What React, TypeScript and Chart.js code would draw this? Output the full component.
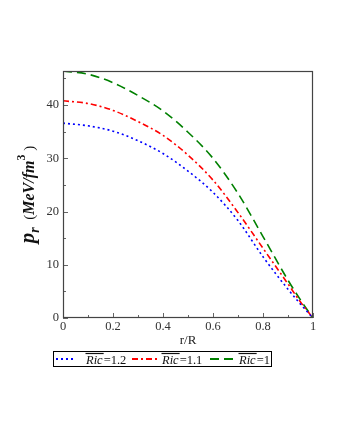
import React, { useEffect, useRef } from 'react';
import { Chart, registerables } from 'chart.js';
Chart.register(...registerables);

const rValues = [0, 0.1, 0.2, 0.3, 0.4, 0.5, 0.6, 0.7, 0.8, 0.9, 0.95, 1];
const pRic12 = [36.6, 36.1, 35.1, 33.3, 30.9, 27.6, 23.6, 18.3, 11.5, 5.4, 2.6, 0];
const pRic11 = [40.8, 40.3, 39.0, 36.9, 34.3, 30.6, 25.9, 19.8, 13.1, 6.4, 3.0, 0];
const pRic1 = [46.4, 45.8, 44.2, 41.8, 38.9, 34.9, 30.0, 23.4, 15.3, 7.1, 3.4, 0];
const ricLabels = ['1.2', '1.1', '1'];
const xTicks = [0, 0.2, 0.4, 0.6, 0.8, 1];
const xTickLabels = ['0', '0.2', '0.4', '0.6', '0.8', '1'];
const xMinorTicks = [0.1, 0.3, 0.5, 0.7, 0.9];
const yTicks = [0, 10, 20, 30, 40];
const yMinorTicks = [5, 15, 25, 35, 45];

const SERIF = '"Liberation Serif", "DejaVu Serif", serif';
const COLORS = ['#0000ff', '#ff0000', '#008000'];
const DASHES = [[2, 3], [6, 3, 2, 3], [9, 5]];

const decorPlugin = {
  id: 'decor',
  afterDraw(chart: any) {
    const ctx = chart.ctx as CanvasRenderingContext2D;
    const { left, right, top, bottom } = chart.chartArea;
    const xs = chart.scales.x;
    const ys = chart.scales.y;
    ctx.save();
    // ticks inside
    ctx.strokeStyle = '#666';
    ctx.lineWidth = 1;
    ctx.beginPath();
    xTicks.forEach((v) => {
      const px = Math.round(xs.getPixelForValue(v)) + 0.5;
      ctx.moveTo(px, bottom);
      ctx.lineTo(px, bottom - 5);
    });
    xMinorTicks.forEach((v) => {
      const px = Math.round(xs.getPixelForValue(v)) + 0.5;
      ctx.moveTo(px, bottom);
      ctx.lineTo(px, bottom - 3);
    });
    yTicks.forEach((v) => {
      const py = Math.round(ys.getPixelForValue(v)) + 0.5;
      ctx.moveTo(left, py);
      ctx.lineTo(left + 5, py);
    });
    yMinorTicks.forEach((v) => {
      const py = Math.round(ys.getPixelForValue(v)) + 0.5;
      ctx.moveTo(left, py);
      ctx.lineTo(left + 3, py);
    });
    ctx.stroke();
    // frame
    ctx.strokeStyle = '#444';
    ctx.lineWidth = 1.2;
    ctx.strokeRect(left + 0.5, top + 0.5, right - left - 1, bottom - top - 1);

    // tick labels
    ctx.fillStyle = '#333';
    ctx.font = `12.5px ${SERIF}`;
    ctx.textAlign = 'center';
    ctx.textBaseline = 'middle';
    xTicks.forEach((v, i) => {
      ctx.fillText(xTickLabels[i], xs.getPixelForValue(v), bottom + 9);
    });
    ctx.textAlign = 'right';
    yTicks.forEach((v) => {
      ctx.fillText(String(v), left - 4, ys.getPixelForValue(v));
    });

    // x title
    ctx.fillStyle = '#222';
    ctx.font = `13px ${SERIF}`;
    ctx.textAlign = 'center';
    ctx.textBaseline = 'alphabetic';
    ctx.fillText('r/R', (left + right) / 2, bottom + 26);

    // y title (rotated)
    const pieces = [
      { t: 'p', f: `bold italic 21px ${SERIF}`, dy: 0 },
      { t: 'r', f: `bold italic 14px ${SERIF}`, dy: 5 },
      { t: '  (', f: `15px ${SERIF}`, dy: 0 },
      { t: 'MeV/fm', f: `bold italic 16px ${SERIF}`, dy: 0 },
      { t: '3', f: `bold 12px ${SERIF}`, dy: -9 },
      { t: ' )', f: `15px ${SERIF}`, dy: 0 },
    ];
    let total = 0;
    const widths = pieces.map((p) => {
      ctx.font = p.f;
      const w = ctx.measureText(p.t).width;
      total += w;
      return w;
    });
    ctx.save();
    ctx.translate(34, (top + bottom) / 2);
    ctx.rotate(-Math.PI / 2);
    ctx.textAlign = 'left';
    ctx.fillStyle = '#111';
    let cx = -total / 2;
    pieces.forEach((p, i) => {
      ctx.font = p.f;
      ctx.fillText(p.t, cx, p.dy);
      cx += widths[i];
    });
    ctx.restore();

    // legend
    const boxL = 53.5, boxT = 351.5, boxR = 271.5, boxB = 366.5;
    ctx.strokeStyle = '#000';
    ctx.lineWidth = 1;
    ctx.strokeRect(boxL, boxT, boxR - boxL, boxB - boxT);
    const midY = 359;
    const starts = [56, 132, 210];
    const sampleLen = [19, 26, 23];
    const textStart = [86, 162, 239];
    ctx.textBaseline = 'alphabetic';
    ctx.textAlign = 'left';
    chart.data.datasets.forEach((ds: any, i: number) => {
      ctx.save();
      ctx.strokeStyle = ds.borderColor;
      ctx.lineWidth = 2;
      ctx.setLineDash(ds.borderDash);
      ctx.beginPath();
      ctx.moveTo(starts[i], midY);
      ctx.lineTo(starts[i] + sampleLen[i], midY);
      ctx.stroke();
      ctx.restore();
      ctx.fillStyle = '#111';
      ctx.font = `italic 12.5px ${SERIF}`;
      const x0 = textStart[i];
      ctx.fillText('Ric', x0, 364);
      const wRic = ctx.measureText('Ric').width + 1;
      ctx.beginPath();
      ctx.strokeStyle = '#111';
      ctx.lineWidth = 1.2;
      ctx.moveTo(x0 - 0.5, 353.5);
      ctx.lineTo(x0 + wRic, 353.5);
      ctx.stroke();
      ctx.font = `12.5px ${SERIF}`;
      ctx.fillText('=' + ricLabels[i], x0 + wRic, 364);
    });
    ctx.restore();
  },
};

export default function App() {
  const ref = useRef<HTMLCanvasElement>(null);
  useEffect(() => {
    document.body.style.margin = '0';
    const mk = (vals: number[]) => rValues.map((r, i) => ({ x: r, y: vals[i] }));
    const chart = new Chart(ref.current as HTMLCanvasElement, {
      type: 'line',
      data: {
        datasets: [pRic12, pRic11, pRic1].map((vals, i) => ({
          label: 'Ric=' + ricLabels[i],
          data: mk(vals),
          borderColor: COLORS[i],
          borderDash: DASHES[i],
          borderWidth: 1.6,
          pointRadius: 0,
          fill: false,
          cubicInterpolationMode: 'monotone' as const,
        })),
      },
      options: {
        animation: false,
        responsive: false,
        layout: { padding: { left: 63, right: 27, top: 71, bottom: 122 } },
        plugins: { legend: { display: false }, tooltip: { enabled: false } },
        scales: {
          x: { type: 'linear', min: 0, max: 1, display: false },
          y: { type: 'linear', min: 0, max: 46.4, display: false },
        },
      },
      plugins: [decorPlugin],
    });
    return () => chart.destroy();
  }, []);
  return <canvas ref={ref} width={340} height={440} style={{ display: 'block' }} />;
}
